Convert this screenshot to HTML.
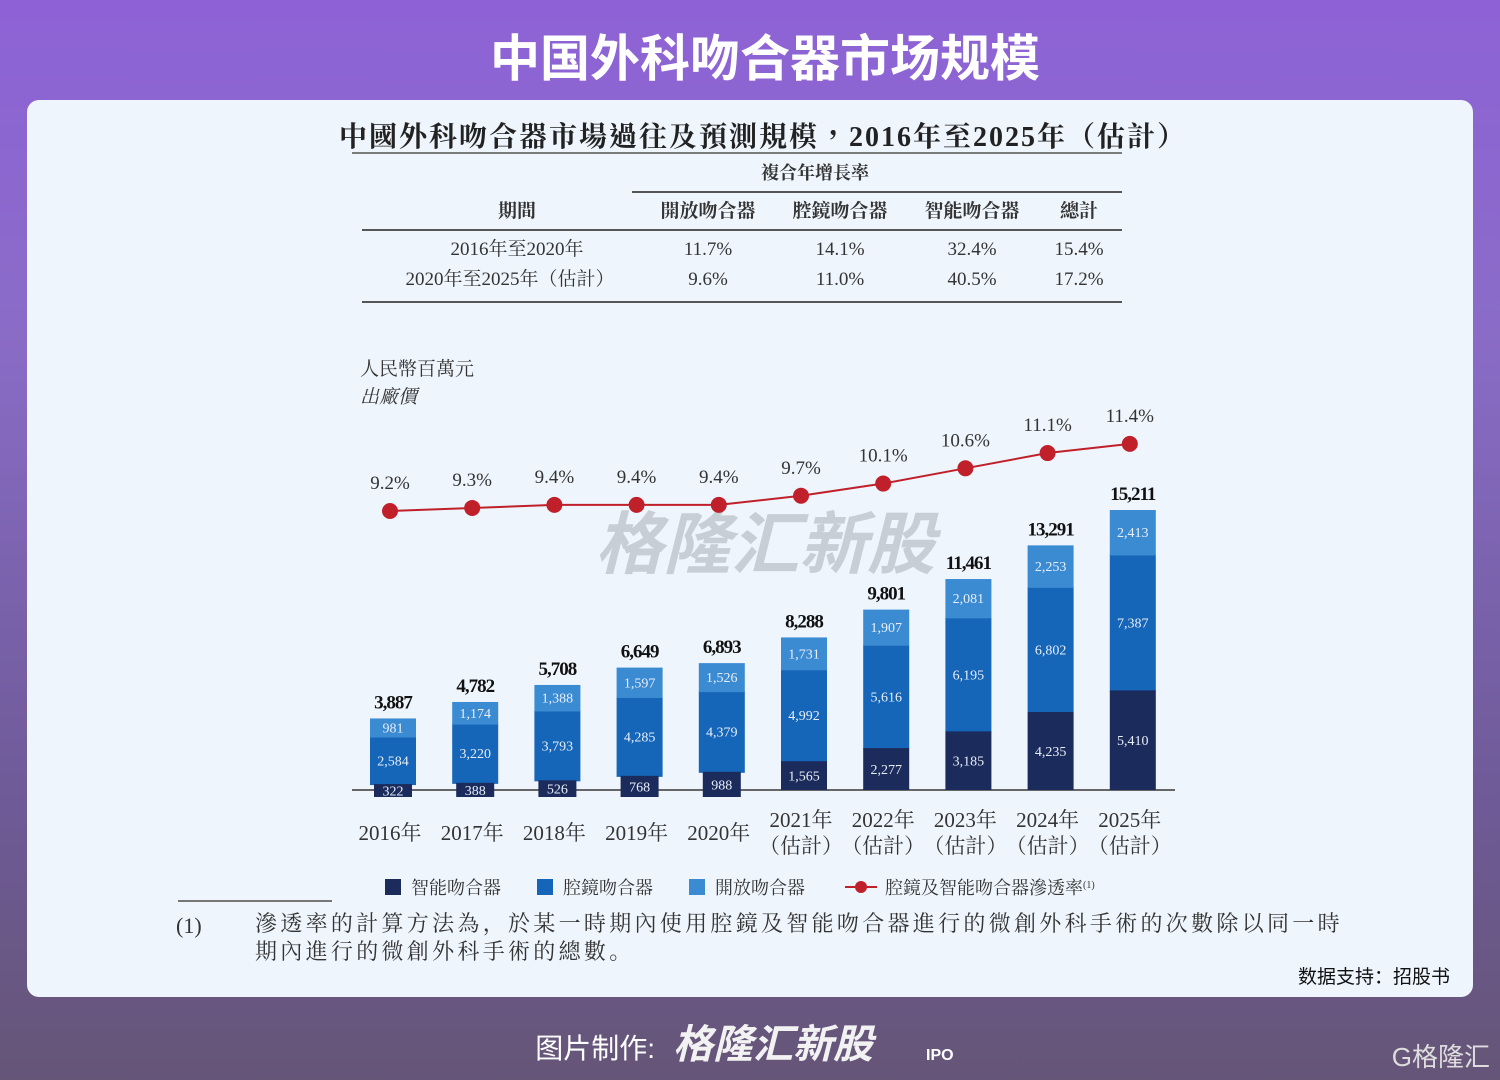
<!DOCTYPE html>
<html><head><meta charset="utf-8">
<style>
html,body{margin:0;padding:0;width:1500px;height:1080px;overflow:hidden}
body{background:linear-gradient(180deg,#8e62d6 0%,#8a6cc8 30%,#6e5a96 75%,#655577 100%);font-family:"Liberation Serif","Noto Serif CJK SC",serif}
svg{position:absolute;left:0;top:0}
</style></head><body>
<svg id="page" width="1500" height="1080" viewBox="0 0 1500 1080">
<text x="765" y="76" text-anchor="middle" font-family="'Liberation Sans','Noto Sans CJK SC',sans-serif" font-weight="bold" font-size="50" fill="#fff">中国外科吻合器市场规模</text>
<rect x="27" y="100" width="1446" height="897" rx="12" fill="#eef5fc"/>
<text x="763" y="146" text-anchor="middle" font-family="'Liberation Serif','Noto Serif CJK TC',serif" font-weight="bold" font-size="28" letter-spacing="2" fill="#222">中國外科吻合器市場過往及預測規模，2016年至2025年（估計）</text>
<line x1="352" y1="153" x2="1122" y2="153" stroke="#555" stroke-width="1.5"/>
<g font-family="'Liberation Serif','Noto Serif CJK TC',serif" fill="#333" text-anchor="middle">
<text x="815" y="179" font-size="18" font-weight="bold">複合年增長率</text>
<line x1="632" y1="192" x2="1122" y2="192" stroke="#555" stroke-width="2"/>
<g font-size="19" font-weight="bold">
<text x="517" y="217">期間</text><text x="708" y="217">開放吻合器</text><text x="840" y="217">腔鏡吻合器</text><text x="972" y="217">智能吻合器</text><text x="1079" y="217">總計</text></g>
<line x1="362" y1="230" x2="1122" y2="230" stroke="#555" stroke-width="2"/>
<g font-size="19">
<text x="517" y="255">2016年至2020年</text><text x="708" y="255">11.7%</text><text x="840" y="255">14.1%</text><text x="972" y="255">32.4%</text><text x="1079" y="255">15.4%</text>
<text x="510" y="285">2020年至2025年（估計）</text><text x="708" y="285">9.6%</text><text x="840" y="285">11.0%</text><text x="972" y="285">40.5%</text><text x="1079" y="285">17.2%</text></g>
<line x1="362" y1="302" x2="1122" y2="302" stroke="#555" stroke-width="2"/>
</g>
<text x="360" y="375" font-size="19" fill="#333">人民幣百萬元</text>
<text x="360" y="403" font-size="19" font-style="italic" fill="#333">出廠價</text>
<text x="765" y="568" text-anchor="middle" font-family="'Liberation Sans','Noto Sans CJK SC',sans-serif" font-weight="bold" font-style="italic" font-size="68" fill="#9aa0a8" opacity="0.45">格隆汇新股</text>
<line x1="352" y1="790" x2="1175" y2="790" stroke="#666" stroke-width="2"/>
<g id="chart"></g>
<g id="xlabels"></g>
<g font-size="18" fill="#333">
<rect x="385" y="879" width="16" height="16" fill="#1b2b5c"/><text x="411" y="894">智能吻合器</text>
<rect x="537" y="879" width="16" height="16" fill="#1565b8"/><text x="563" y="894">腔鏡吻合器</text>
<rect x="689" y="879" width="16" height="16" fill="#3b8bd2"/><text x="715" y="894">開放吻合器</text>
<line x1="845" y1="887" x2="877" y2="887" stroke="#c0202a" stroke-width="2"/><circle cx="861" cy="887" r="6" fill="#c0202a"/>
<text x="885" y="894">腔鏡及智能吻合器滲透率<tspan font-size="10" dy="-6">(1)</tspan></text>
</g>
<line x1="178" y1="901" x2="332" y2="901" stroke="#777" stroke-width="2"/>
<g font-size="22" fill="#333">
<text x="176" y="933">(1)</text>
<text x="255" y="931" letter-spacing="3.3">滲透率的計算方法為，於某一時期內使用腔鏡及智能吻合器進行的微創外科手術的次數除以同一時</text>
<text x="255" y="959" letter-spacing="3.3">期內進行的微創外科手術的總數。</text>
</g>
<text x="1450" y="983" text-anchor="end" font-family="'Liberation Sans','Noto Sans CJK SC',sans-serif" font-size="19" fill="#111">数据支持：招股书</text>
<text x="655" y="1058" text-anchor="end" font-family="'Liberation Sans','Noto Sans CJK SC',sans-serif" font-size="28" fill="#fff">图片制作:</text>
<text x="673" y="1058" font-family="'Liberation Sans','Noto Sans CJK SC',sans-serif" font-weight="bold" font-style="italic" font-size="40" fill="#f2f2f2">格隆汇新股</text>
<text x="926" y="1060" font-family="'Liberation Sans',sans-serif" font-weight="bold" font-size="16" fill="#fff">IPO</text>
<text x="1490" y="1066" text-anchor="end" font-family="'Liberation Sans','Noto Sans CJK SC',sans-serif" font-size="26" fill="#ddd">G格隆汇</text>
</svg>
<script>
const years=["2016年","2017年","2018年","2019年","2020年","2021年","2022年","2023年","2024年","2025年"];
const estimated=[false,false,false,false,false,true,true,true,true,true];
const smart=[322,388,526,768,988,1565,2277,3185,4235,5410];
const laparo=[2584,3220,3793,4285,4379,4992,5616,6195,6802,7387];
const openS=[981,1174,1388,1597,1526,1731,1907,2081,2253,2413];
const totals=["3,887","4,782","5,708","6,649","6,893","8,288","9,801","11,461","13,291","15,211"];
const penetration=[9.2,9.3,9.4,9.4,9.4,9.7,10.1,10.6,11.1,11.4];
const NS="http://www.w3.org/2000/svg";
const base=790, yPer=280/15211, x0=393, step=82.2, bw=46;
const xPos=i=>x0+i*step;
const yVal=v=>base-v*yPer;
const yPct=p=>511-(p-9.2)*30.5;
const fmt=v=>v.toLocaleString("en-US");
const g=document.getElementById("chart"), xl=document.getElementById("xlabels");
function mk(tag,attrs,parent){const e=document.createElementNS(NS,tag);for(const k in attrs)e.setAttribute(k,attrs[k]);parent.appendChild(e);return e;}
const segs=[[laparo,"#1565b8","laparoscopic"],[openS,"#3b8bd2","open"]];
years.forEach((y,i)=>{
  const cx=xPos(i);
  let cum=smart[i];
  segs.forEach(([arr,col,nm])=>{
    const v=arr[i];const top=yVal(cum+v),bot=yVal(cum);
    const r=mk("rect",{x:cx-bw/2,y:top,width:bw,height:bot-top+1,fill:col},g);
    
    
    const t=mk("text",{x:cx,y:(top+bot)/2+5,"text-anchor":"middle","font-size":"14",fill:"#e8eef8"},g);
    
    
    t.textContent=fmt(arr[i]);
    cum+=v;
  });
  // smart (navy) segment, drawn with a minimum visible height extending below baseline
  const sTop=yVal(smart[i]);
  let sBot=base;
  if(base-sTop<24) sBot=base+7;
  const sr=mk("rect",{x:cx-bw/2+(sBot>base?4:0),y:sTop,width:bw-(sBot>base?8:0),height:sBot-sTop,fill:"#1b2b5c"},g);
  
  
  const st=mk("text",{x:cx,y:(sTop+sBot)/2+5,"text-anchor":"middle","font-size":"14",fill:"#e8eef8"},g);
  
  
  st.textContent=fmt(smart[i]);
  const tt=mk("text",{x:cx,y:yVal(cum)-10,"text-anchor":"middle","font-size":"19","font-weight":"bold",fill:"#111","letter-spacing":"-1"},g);
  
  
  tt.textContent=totals[i];
  const lx=mk("text",{x:cx-3,y:840,"text-anchor":"middle","font-size":"21",fill:"#333"},xl);
  
  
  if(estimated[i]){lx.setAttribute("y","827");lx.textContent=y;
    const l2=mk("text",{x:cx-3,y:853,"text-anchor":"middle","font-size":"21",fill:"#333"},xl);
    
    
    l2.textContent="（估計）";}
  else lx.textContent=y;
});
const pts=penetration.map((p,i)=>xPos(i)-3+","+yPct(p)).join(" ");
const pl=mk("polyline",{points:pts,fill:"none",stroke:"#c0202a","stroke-width":"2"},g);


penetration.forEach((p,i)=>{
  const c=mk("circle",{cx:xPos(i)-3,cy:yPct(p),r:8,fill:"#c0202a"},g);
  
  
  const t=mk("text",{x:xPos(i)-3,y:yPct(p)-22,"text-anchor":"middle","font-size":"19",fill:"#333"},g);
  
  
  t.textContent=p.toFixed(1)+"%";
});
</script>
</body></html>
